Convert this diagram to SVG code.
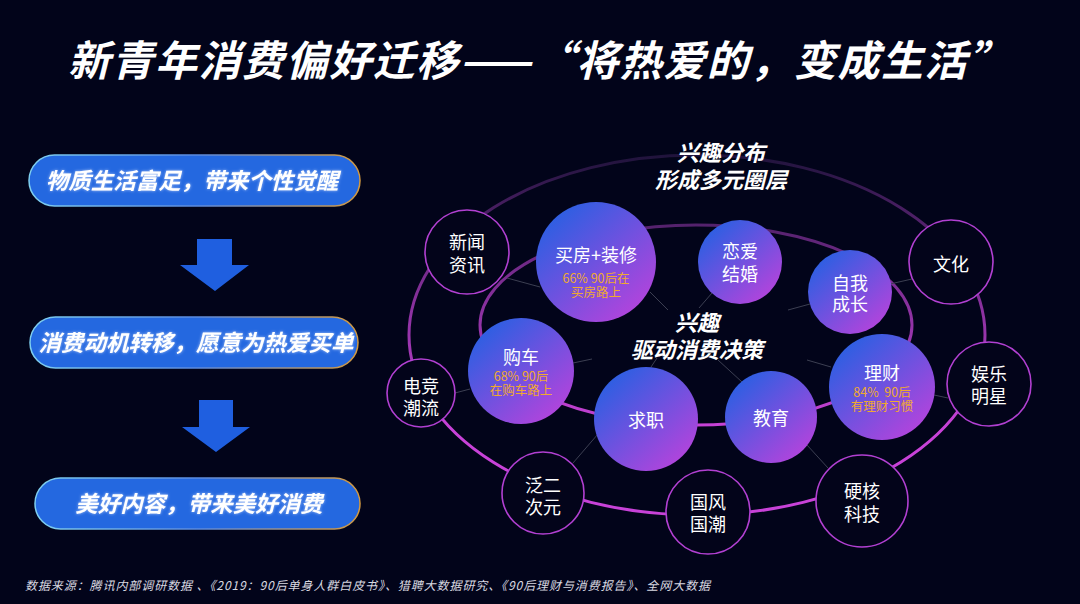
<svg xmlns="http://www.w3.org/2000/svg" width="1080" height="604" viewBox="0 0 1080 604">
<style>
.cjk{font-family:"Noto Sans CJK SC","Noto Sans",sans-serif}
.title{font-size:42px;font-weight:700;font-style:italic;fill:#fff}
.pill{fill:#2468e0;stroke:url(#pillStroke);stroke-width:1.5}
.pilltxt{font-size:22.5px;font-weight:700;font-style:italic;fill:#fff;text-anchor:middle;filter:url(#glow)}
.arrow{fill:#1f5fe0}
.ring{fill:none;stroke:url(#ringGrad);stroke-width:3}
.spoke{stroke:#3c3f52;stroke-width:1;fill:none}
.fill{fill:url(#nodeGrad)}
.outline{fill:#03041a;stroke:#b240d2;stroke-width:1.6}
.lbl{font-size:18px;fill:#fff;text-anchor:middle}
.sub{font-size:12.5px;fill:#f0aa30;text-anchor:middle}
.center{font-size:22px;font-weight:700;font-style:italic;fill:#fff;text-anchor:middle}
.foot{font-size:12px;font-style:italic;fill:#d8d8e0}
</style>
<defs>
<linearGradient id="pillStroke" x1="0" y1="0" x2="1" y2="0">
<stop offset="0" stop-color="#7fd0f0"/>
<stop offset="0.5" stop-color="#5a8ae0"/>
<stop offset="1" stop-color="#d49a40"/>
</linearGradient>
<linearGradient id="nodeGrad" x1="0.15" y1="0.1" x2="0.85" y2="0.9">
<stop offset="0" stop-color="#2c5fe2"/>
<stop offset="1" stop-color="#b244dc"/>
</linearGradient>
<linearGradient id="ringGrad" gradientUnits="userSpaceOnUse" x1="0" y1="150" x2="0" y2="430">
<stop offset="0" stop-color="#1c1238"/>
<stop offset="0.45" stop-color="#7a2c90"/>
<stop offset="1" stop-color="#c842d8"/>
</linearGradient>
<filter id="glow" x="-10%" y="-40%" width="120%" height="180%">
<feGaussianBlur in="SourceAlpha" stdDeviation="1.6" result="b"/>
<feFlood flood-color="#dfe9ff" flood-opacity="0.7"/>
<feComposite in2="b" operator="in" result="g"/>
<feMerge><feMergeNode in="g"/><feMergeNode in="SourceGraphic"/></feMerge>
</filter>
</defs>
<rect x="0" y="0" width="1080" height="604" fill="#02041a"/>

<text class="cjk title" x="68" y="76" textLength="942" lengthAdjust="spacing">新青年消费偏好迁移——“将热爱的，变成生活”</text>

<g id="step1">
<rect class="pill" x="29" y="155" width="331" height="51" rx="25.5"/>
<text class="cjk pilltxt" x="192" y="189">物质生活富足，带来个性觉醒</text>
</g>
<g id="arrow1"><polygon class="arrow" points="197,239 232,239 232,265 249,265 215,291 180,265 197,265"/></g>
<g id="step2">
<rect class="pill" x="30" y="317" width="328" height="51" rx="25.5"/>
<text class="cjk pilltxt" x="196" y="351">消费动机转移，愿意为热爱买单</text>
</g>
<g id="arrow2"><polygon class="arrow" points="199,400 233,400 233,427 250,427 216,452 182,427 199,427"/></g>
<g id="step3">
<rect class="pill" x="35" y="478" width="325" height="51" rx="25.5"/>
<text class="cjk pilltxt" x="199" y="512">美好内容，带来美好消费</text>
</g>

<g id="rings">
<ellipse class="ring" cx="697" cy="335" rx="288" ry="180"/>
<ellipse class="ring" cx="696" cy="325" rx="216" ry="100"/>
</g>

<g id="connectors">
<line class="spoke" x1="507" y1="278" x2="540" y2="287"/>
<line class="spoke" x1="650" y1="292" x2="668" y2="310"/>
<line class="spoke" x1="712" y1="293" x2="699" y2="308"/>
<line class="spoke" x1="788" y1="310" x2="810" y2="304"/>
<line class="spoke" x1="890" y1="284" x2="912" y2="279"/>
<line class="spoke" x1="573" y1="363" x2="592" y2="359"/>
<line class="spoke" x1="455" y1="393" x2="470" y2="389"/>
<line class="spoke" x1="651" y1="367" x2="657" y2="358"/>
<line class="spoke" x1="573" y1="463" x2="598" y2="434"/>
<line class="spoke" x1="718" y1="360" x2="742" y2="382"/>
<line class="spoke" x1="807" y1="360" x2="831" y2="367"/>
<line class="spoke" x1="934" y1="395" x2="948" y2="398"/>
<line class="spoke" x1="807" y1="445" x2="828" y2="468"/>
</g>

<g id="center-top">
<text class="cjk center" x="721" y="161">兴趣分布</text>
<text class="cjk center" x="721" y="188">形成多元圈层</text>
</g>
<g id="center-mid">
<text class="cjk center" x="697" y="331">兴趣</text>
<text class="cjk center" x="697" y="358">驱动消费决策</text>
</g>

<g id="n-news"><circle class="outline" cx="467" cy="252" r="42"/><text class="cjk lbl" x="467" y="249">新闻</text><text class="cjk lbl" x="467" y="272">资讯</text></g>
<g id="n-culture"><circle class="outline" cx="951" cy="262" r="42"/><text class="cjk lbl" x="951" y="271">文化</text></g>
<g id="n-ent"><circle class="outline" cx="989" cy="384" r="42"/><text class="cjk lbl" x="989" y="381">娱乐</text><text class="cjk lbl" x="989" y="403">明星</text></g>
<g id="n-tech"><circle class="outline" cx="862" cy="501" r="46"/><text class="cjk lbl" x="862" y="498">硬核</text><text class="cjk lbl" x="862" y="521">科技</text></g>
<g id="n-guochao"><circle class="outline" cx="708" cy="512" r="42"/><text class="cjk lbl" x="708" y="509">国风</text><text class="cjk lbl" x="708" y="531">国潮</text></g>
<g id="n-acg"><circle class="outline" cx="543" cy="493" r="41"/><text class="cjk lbl" x="543" y="492">泛二</text><text class="cjk lbl" x="543" y="514">次元</text></g>
<g id="n-esports"><circle class="outline" cx="421" cy="393" r="34"/><text class="cjk lbl" x="421" y="393">电竞</text><text class="cjk lbl" x="421" y="415">潮流</text></g>

<g id="n-house"><circle class="fill" cx="596" cy="262" r="60"/><text class="cjk lbl" x="596" y="262">买房+装修</text><text class="cjk sub" x="596" y="283">66% 90后在</text><text class="cjk sub" x="596" y="297">买房路上</text></g>
<g id="n-love"><circle class="fill" cx="740" cy="262" r="42"/><text class="cjk lbl" x="740" y="258">恋爱</text><text class="cjk lbl" x="740" y="281">结婚</text></g>
<g id="n-growth"><circle class="fill" cx="850" cy="292" r="42"/><text class="cjk lbl" x="850" y="290">自我</text><text class="cjk lbl" x="850" y="311">成长</text></g>
<g id="n-finance"><circle class="fill" cx="882" cy="387" r="53"/><text class="cjk lbl" x="882" y="380">理财</text><text class="cjk sub" x="882" y="397" xml:space="preserve">84%  90后</text><text class="cjk sub" x="882" y="411">有理财习惯</text></g>
<g id="n-edu"><circle class="fill" cx="771" cy="417" r="46"/><text class="cjk lbl" x="771" y="425">教育</text></g>
<g id="n-job"><circle class="fill" cx="646" cy="419" r="52"/><text class="cjk lbl" x="646" y="427">求职</text></g>
<g id="n-car"><circle class="fill" cx="521" cy="371" r="53"/><text class="cjk lbl" x="521" y="364">购车</text><text class="cjk sub" x="521" y="381">68% 90后</text><text class="cjk sub" x="521" y="395">在购车路上</text></g>

<text class="cjk foot" x="25" y="590" textLength="685" lengthAdjust="spacing">数据来源：腾讯内部调研数据 、《2019：90后单身人群白皮书》、猎聘大数据研究、《90后理财与消费报告》、全网大数据</text>
</svg>
